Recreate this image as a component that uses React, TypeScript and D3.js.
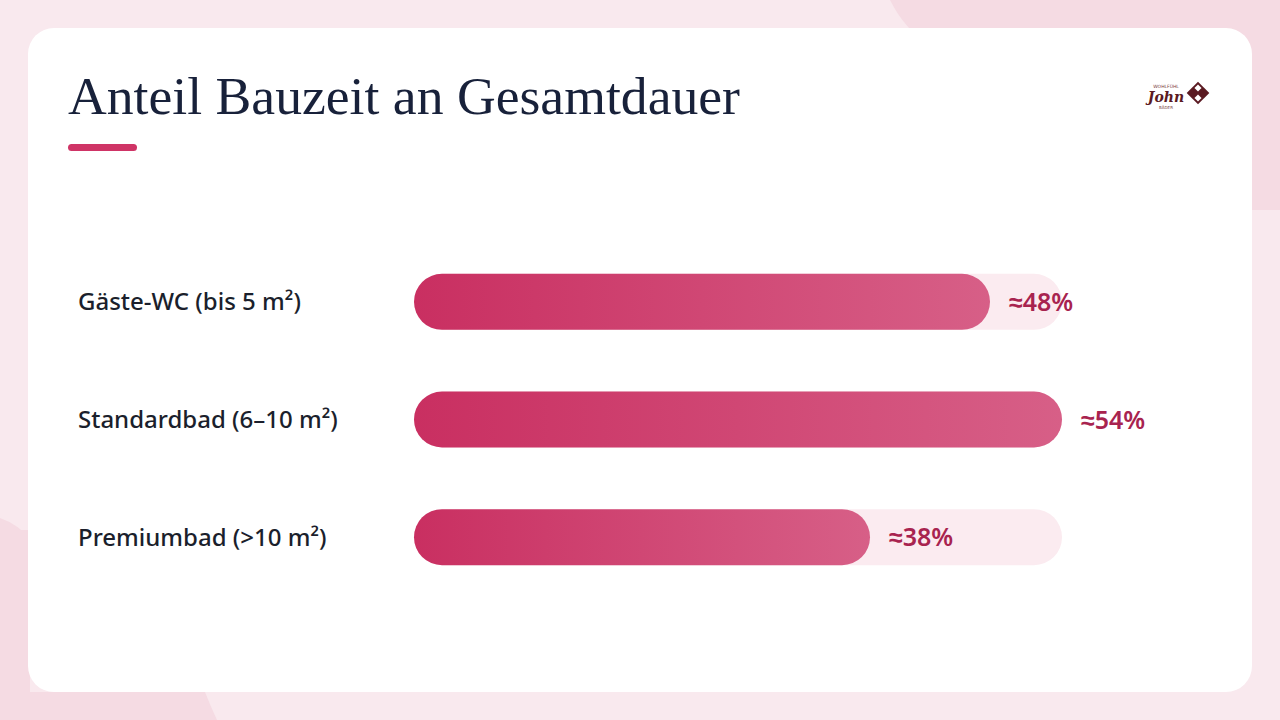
import React from "react";
import * as d3 from "d3";

const categories = ["Gäste-WC (bis 5 m²)", "Standardbad (6–10 m²)", "Premiumbad (>10 m²)"];
const shares = [48, 54, 38];
const valueLabels = ["≈48%", "≈54%", "≈38%"];
const title = "Anteil Bauzeit an Gesamtdauer";

export default function App() {
  const W = 1280, H = 720;
  const x = d3.scaleLinear().domain([0, d3.max(shares) as number]).range([414, 1062]);
  const y = d3.scaleBand<string>().domain(categories).range([243, 596]).paddingInner(0.52).paddingOuter(0.26);
  const bh = 56;
  return (
    <div style={{ position: "fixed", left: 0, top: 0, width: W, height: H }}>
      <svg width={W} height={H} style={{ display: "block" }}>
        <defs>
          <linearGradient id="barGrad" x1="0" x2="1" y1="0" y2="0">
            <stop offset="0%" stopColor="#c92f61" />
            <stop offset="100%" stopColor="#d75f87" />
          </linearGradient>
        </defs>
        <rect x={0} y={0} width={W} height={H} fill="#f9e9ee" />
        <rect x={890} y={0} width={390} height={210} fill="#f5dbe3" />
        <path d="M890,0 Q905,30 930,45 L890,45 Z" fill="#f9e9ee" />
        <path d="M0,518 Q20,525 30,540 L30,720 L0,720 Z" fill="#f5dbe3" />
        <rect x={0} y={530} width={30} height={190} fill="#f5dbe3" />
        <path d="M30,692 L205,692 Q210,705 217,720 L30,720 Z" fill="#f5dbe3" />
        <rect x={28} y={28} width={1224} height={664} rx={26} fill="#ffffff" />
        <text x={68} y={114} textLength={672} lengthAdjust="spacingAndGlyphs" fontFamily="'Liberation Serif', 'DejaVu Serif', serif" fontSize={52} fill="#18213a">{title}</text>
        <rect x={68} y={144} width={69} height={7} rx={3.5} fill="#cf3466" />
        <g transform="translate(1176,96)">
          <text x={-10} y={6} textAnchor="middle" fontFamily="'DejaVu Serif', serif" fontStyle="italic" fontWeight="bold" fontSize={14} fill="#5b1a22">John</text>
          <text x={-10} y={-8} textAnchor="middle" fontFamily="'DejaVu Sans', sans-serif" fontSize={4.5} fill="#7a3a40">WOHLFÜHL</text>
          <text x={-10} y={13} textAnchor="middle" fontFamily="'DejaVu Sans', sans-serif" fontSize={4} fill="#7a3a40">BÄDER</text>
          <g transform="translate(22,-3) rotate(45)">
            <rect x={-8} y={-8} width={16} height={16} fill="#5b1a22" />
            <rect x={-6} y={-6} width={5} height={5} fill="#fff" />
            <rect x={1} y={1} width={5} height={5} fill="#fff" />
          </g>
        </g>
        {categories.map((c, i) => {
          const cy = (y(c) as number) + y.bandwidth() / 2;
          const x0 = x(0);
          const x1 = x(shares[i]);
          return (
            <g key={c}>
              <text x={78} y={cy} dy="0.36em" fontFamily="'Noto Sans', sans-serif" fontWeight={500} fontSize={24} fill="#1b1f2c">{c}</text>
              <rect x={x0} y={cy - bh / 2} width={x.range()[1] - x0} height={bh} rx={bh / 2} fill="#fbebf0" />
              <rect x={x0} y={cy - bh / 2} width={x1 - x0} height={bh} rx={bh / 2} fill="url(#barGrad)" />
              <text x={x1 + 19} y={cy} dy="0.36em" fontFamily="'Noto Sans', sans-serif" fontWeight={600} fontSize={25} fill="#a8234f">{valueLabels[i]}</text>
            </g>
          );
        })}
      </svg>
    </div>
  );
}
